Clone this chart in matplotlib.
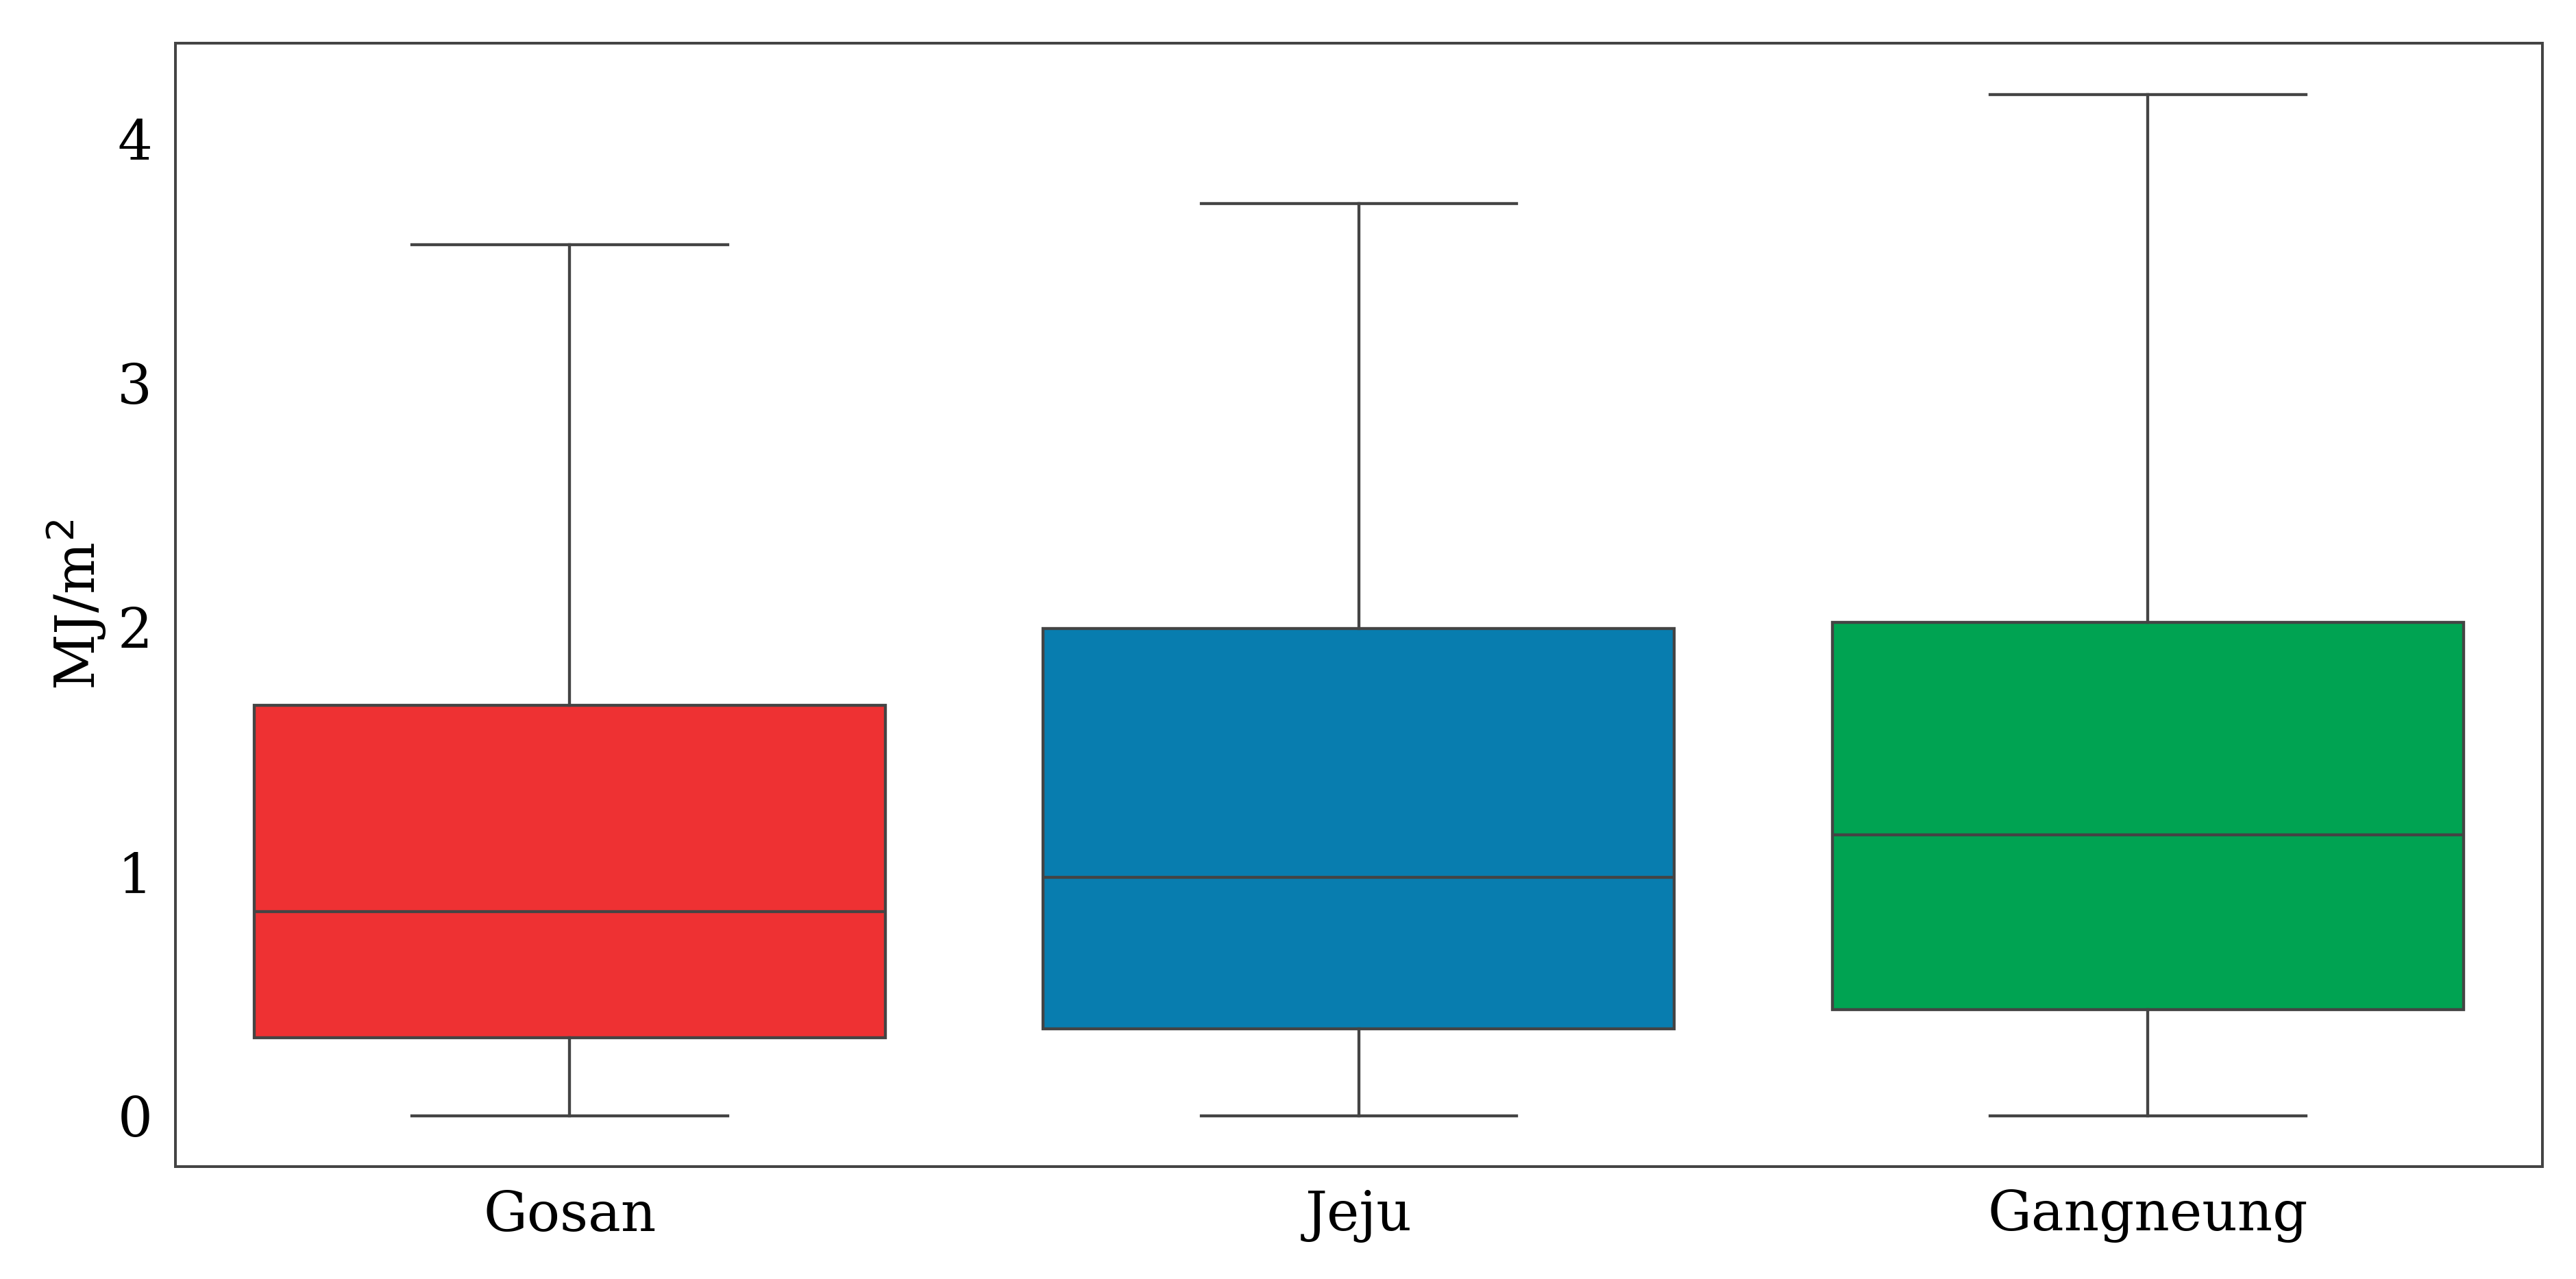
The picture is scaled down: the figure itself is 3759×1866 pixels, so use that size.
import matplotlib
matplotlib.use("Agg")
import matplotlib.pyplot as plt

stations = ["Gosan", "Jeju", "Gangneung"]
whislo = [0.0, 0.0, 0.0]
q1 = [0.32, 0.355, 0.435]
med = [0.836, 0.977, 1.15]
q3 = [1.679, 1.993, 2.02]
whishi = [3.565, 3.732, 4.18]
colors = ["#EE3133", "#087DAF", "#00A352"]

plt.rcParams['font.family'] = ['DejaVu Serif']
fig = plt.figure(figsize=(3759/240, 1866/240), dpi=240)
ax = fig.add_axes([0.068, 0.088, 0.919, 0.878])
stats = [dict(label=s, whislo=a, q1=b, med=c, q3=d, whishi=e, fliers=[])
         for s, a, b, c, d, e in zip(stations, whislo, q1, med, q3, whishi)]
lc = "#444444"
bp = ax.bxp(stats, positions=range(len(stations)), widths=0.8, patch_artist=True,
            showfliers=False, capwidths=0.4,
            boxprops=dict(edgecolor=lc, linewidth=1.3),
            medianprops=dict(color=lc, linewidth=1.3),
            whiskerprops=dict(color=lc, linewidth=1.3),
            capprops=dict(color=lc, linewidth=1.3))
for p, c in zip(bp['boxes'], colors):
    p.set_facecolor(c)
ax.set_xlim(-0.5, 2.5)
ax.set_ylim(-0.207, 4.388)
ax.set_yticks([0, 1, 2, 3, 4])
ax.tick_params(labelsize=24, length=0, pad=10)
ax.set_ylabel("MJ/m$^2$", fontsize=24)
for s in ax.spines.values():
    s.set_color(lc)
    s.set_linewidth(1.2)
fig.savefig("out.png", dpi=240)
